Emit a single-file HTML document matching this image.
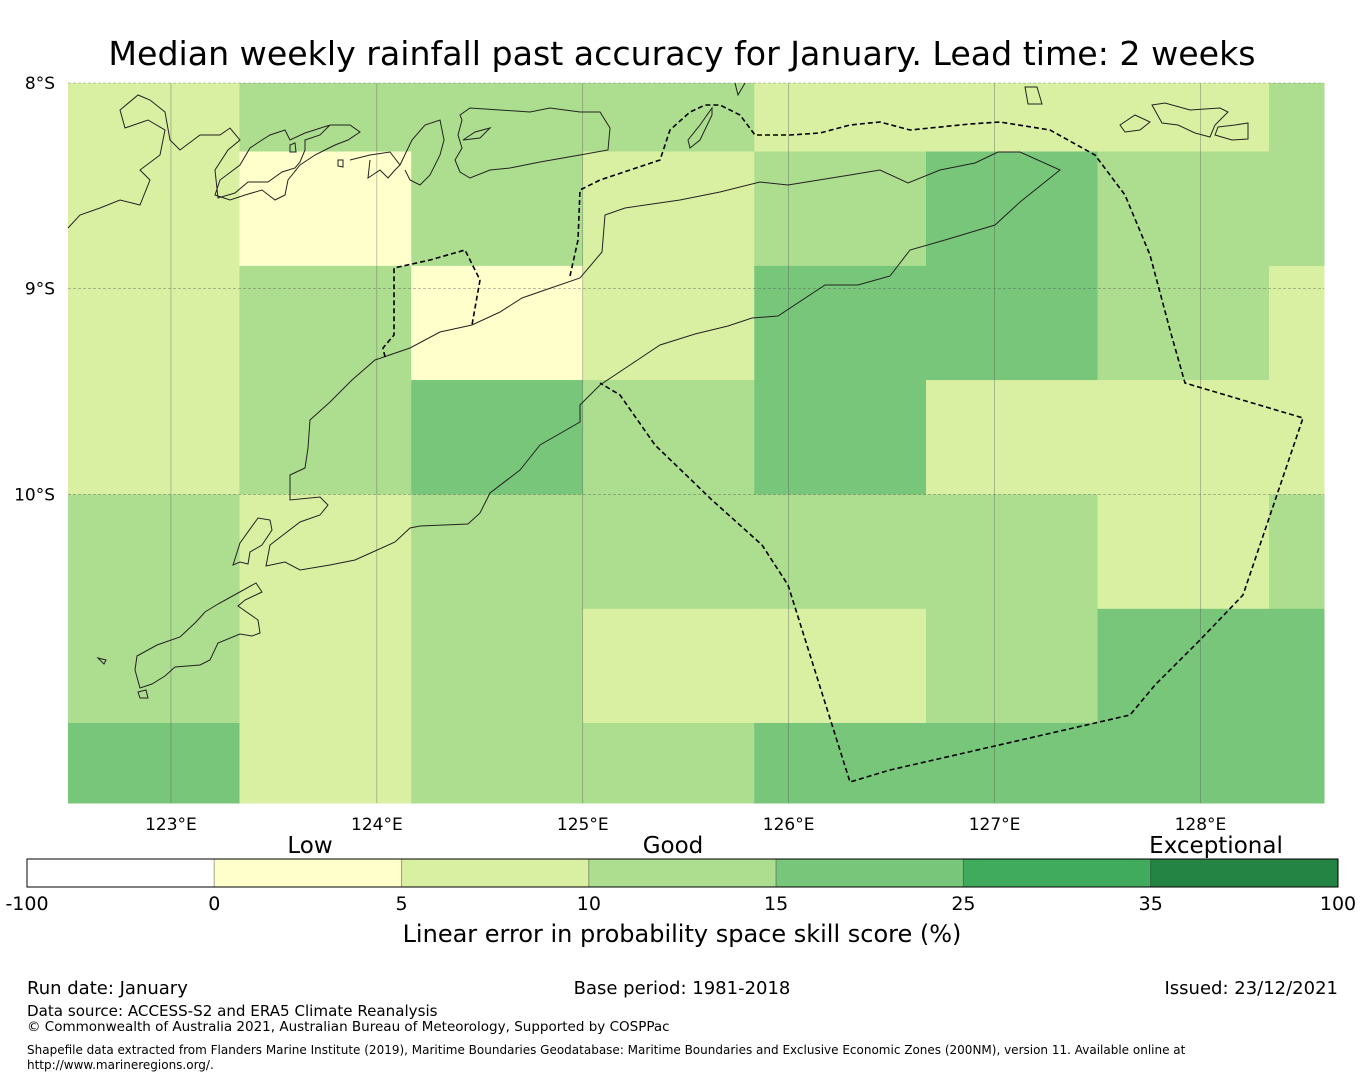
<!DOCTYPE html>
<html><head><meta charset="utf-8"><style>
body{margin:0;background:#fff;width:1365px;height:1080px;overflow:hidden;font-family:"DejaVu Sans","Liberation Sans",sans-serif;}
svg{position:absolute;left:0;top:0}
text{font-family:"DejaVu Sans","Liberation Sans",sans-serif;fill:#000}
</style></head><body>
<svg id="chart" width="1365" height="1080">
<text x="682" y="65" text-anchor="middle" font-size="33.2">Median weekly rainfall past accuracy for January. Lead time: 2 weeks</text>
<g id="cells"></g>
<g id="grid"></g>
<g id="coast" fill="none" stroke="#222" stroke-width="1">
<path d="M290,500 L290,475 L305,468 L308,448 L310,420 L330,402 L352,380 L375,360 L410,348 L440,332 L472,325 L500,312 L522,298 L545,290 L580,278 L602,252 L605,215 L625,208 L680,200 L720,192 L760,182 L788,185 L850,175 L880,170 L908,183 L940,170 L975,163 L998,152 L1020,152 L1060,170 L1020,202 L995,225 L945,240 L910,250 L890,276 L858,285 L825,285 L778,316 L752,318 L728,326 L695,334 L660,345 L630,365 L600,385 L580,405 L580,422 L540,445 L520,470 L490,493 L480,513 L468,524 L420,526 L410,528 L395,542 L375,551 L355,560 L330,565 L300,570 L285,562 L266,566 L270,545 L300,522 L320,515 L328,505 L320,497 Z"/>
<path d="M256,583 L262,592 L245,600 L238,606 L258,620 L260,633 L252,636 L240,634 L218,643 L210,660 L200,665 L175,667 L165,676 L152,684 L140,688 L135,670 L137,656 L157,645 L180,637 L196,622 L205,612 L218,604 L238,593 Z"/>
<path d="M233,565 L240,543 L258,518 L270,520 L272,530 L262,545 L250,552 L248,564 L240,562 Z M138,692 L146,690 L148,698 L140,698 Z M98,658 L106,660 L104,664 Z"/>
<path d="M68,228 L80,215 L100,208 L120,200 L140,205 L150,180 L140,170 L160,155 L165,130 L148,120 L125,128 L120,110 L138,95 L150,100 L165,112 L170,140 L180,150 L200,135 L220,135 L230,128 L240,140 L228,150 L215,170 L218,198 L235,193 L248,182 L268,182 L282,172 L295,168 L300,162 L305,150 L305,140 L320,135 L330,125 L350,125 L360,132 L348,140 L335,145 L325,150 L315,155 L300,165 L288,180 L285,195 L275,200 L262,190 L245,195 L230,200 L215,195 L220,180 L240,165 L250,148 L262,140 L270,135 L285,130 L290,140 L305,133 L330,125"/>
<path d="M350,160 L370,155 L390,152 L400,165 L395,170 L388,178 L380,170 L368,178 L370,160 M400,165 L412,140 L425,125 L440,120 L444,140 L440,155 L430,175 L420,185 L410,180 L405,170 M460,115 L470,108 L500,110 L530,112 L550,108 L580,112 L600,112 L610,128 L608,150 L580,155 L540,162 L510,168 L490,170 L470,178 L460,172 L455,160 L462,148 L458,135 L462,120 Z M463,140 L475,132 L490,128 L480,138 Z M338,160 L343,160 L343,167 L338,166 Z M290,145 L295,143 L296,152 L290,152 Z"/>
<path d="M700,140 L712,115 L712,108 L700,125 L688,140 L690,148 Z M1120,125 L1135,115 L1150,122 L1140,130 L1125,132 Z M1152,105 L1165,103 L1190,110 L1220,108 L1228,112 L1215,125 L1210,137 L1195,133 L1178,125 L1162,123 Z M1218,127 L1235,125 L1248,123 L1248,139 L1232,140 L1215,135 Z M1025,87 L1037,87 L1042,104 L1028,104 Z M735,83 L738,95 L745,83"/>
</g>
<path fill="none" stroke="#000" stroke-width="1.6" stroke-dasharray="5,3" d="M385,357 L383,348 L394,335 L394,268 L430,260 L465,250 L480,280 L472,325 M570,276 L578,240 L580,190 L600,180 L660,160 L670,130 L690,112 L705,105 L720,105 L740,115 L755,135 L790,135 L820,133 L850,125 L880,122 L910,130 L970,124 L1000,122 L1050,130 L1095,155 L1125,195 L1150,255 L1170,330 L1185,383 L1303,418 L1243,595 L1200,640 L1155,685 L1130,715 L890,770 L850,782 L788,585 L762,545 L712,500 L655,445 L620,395 L600,383"/>
<g id="labels"></g>
<g id="cbar"></g>
<text x="310" y="853" text-anchor="middle" font-size="23">Low</text>
<text x="673" y="853" text-anchor="middle" font-size="23">Good</text>
<text x="1216" y="853" text-anchor="middle" font-size="23">Exceptional</text>
<text x="682" y="942" text-anchor="middle" font-size="24">Linear error in probability space skill score (%)</text>
<text x="27" y="994" font-size="18">Run date: January</text>
<text x="682" y="994" text-anchor="middle" font-size="18">Base period: 1981-2018</text>
<text x="1338" y="994" text-anchor="end" font-size="18">Issued: 23/12/2021</text>
<text x="27" y="1016" font-size="15.1">Data source: ACCESS-S2 and ERA5 Climate Reanalysis</text>
<text x="27" y="1031" font-size="13.5">© Commonwealth of Australia 2021, Australian Bureau of Meteorology, Supported by COSPPac</text>
<text x="27" y="1054" font-size="12">Shapefile data extracted from Flanders Marine Institute (2019), Maritime Boundaries Geodatabase: Maritime Boundaries and Exclusive Economic Zones (200NM), version 11. Available online at</text>
<text x="27" y="1069" font-size="12">http://www.marineregions.org/.</text>
</svg>
<script>
const colEdges=[122.5,123.333,124.167,125.0,125.833,126.667,127.5,128.333,128.6];
const rowEdges=[8.0,8.333,8.889,9.444,10.0,10.556,11.111,11.5];
const skillValues=[
[7,12,12,12,7,7,7,12],
[7,3,12,7,12,20,12,12],
[7,12,3,7,20,20,12,7],
[7,12,20,12,20,7,7,7],
[12,7,12,12,12,12,7,12],
[12,7,12,7,7,12,20,20],
[20,7,12,12,20,20,20,20]];
const lonTicks=[123,124,125,126,127,128];
const latTicks=[8,9,10];
const cbBounds=[-100,0,5,10,15,25,35,100];
const cbColors=["#ffffff","#ffffcc","#d9f0a3","#addd8e","#78c679","#41ab5d","#238443"];
const X0=68,X1=1324,Y0=83,Y1=803;
const xs=lon=>X0+(lon-122.5)/(128.6-122.5)*(X1-X0);
const ys=lat=>Y0+(lat-8)/(11.5-8)*(Y1-Y0);
function col(v){for(let i=cbBounds.length-2;i>=0;i--)if(v>=cbBounds[i])return cbColors[i];return cbColors[0];}
const NS="http://www.w3.org/2000/svg";
function mk(t,a,p){const e=document.createElementNS(NS,t);for(const k in a)e.setAttribute(k,a[k]);p.appendChild(e);return e;}
const cells=document.getElementById('cells');
skillValues.forEach((row,r)=>row.forEach((v,c)=>{
 const x=xs(colEdges[c]),x2=xs(colEdges[c+1]),y=ys(rowEdges[r]),y2=ys(rowEdges[r+1]);
 const e=mk('rect',{x:x,y:y,width:x2-x+0.5,height:y2-y+0.5,fill:col(v)},cells);
 
 
}));
const grid=document.getElementById('grid'),labels=document.getElementById('labels');
lonTicks.forEach(l=>{
 const g=mk('line',{x1:xs(l),x2:xs(l),y1:Y0,y2:Y1,stroke:'#555','stroke-width':0.6,'stroke-opacity':0.6},grid);
 
 
 const t=mk('text',{x:xs(l),y:830,'text-anchor':'middle','font-size':17},labels);
 t.textContent=l+'°E';
 
 
});
latTicks.forEach(l=>{
 const g=mk('line',{x1:X0,x2:X1,y1:ys(l),y2:ys(l),stroke:'#555','stroke-width':0.6,'stroke-opacity':0.6,'stroke-dasharray':'3,2'},grid);
 
 
 const t=mk('text',{x:55,y:ys(l)+6,'text-anchor':'end','font-size':17},labels);
 t.textContent=l+'°S';
 
 
});
const cb=document.getElementById('cbar');const CX0=27,CX1=1338,CY=859,CH=28;
const segW=(CX1-CX0)/cbColors.length;
cbColors.forEach((c,i)=>{
 const e=mk('rect',{x:CX0+i*segW,y:CY,width:segW,height:CH,fill:c,stroke:'rgba(0,0,0,0.25)','stroke-width':1},cb);
 
 
});
const fr=mk('rect',{x:CX0,y:CY,width:CX1-CX0,height:CH,fill:'none',stroke:'#000','stroke-width':1},cb);


cbBounds.forEach((b,i)=>{
 const t=mk('text',{x:CX0+i*segW,y:910,'text-anchor':'middle','font-size':19},cb);
 t.textContent=b;
 
 
});
</script>
</body></html>
